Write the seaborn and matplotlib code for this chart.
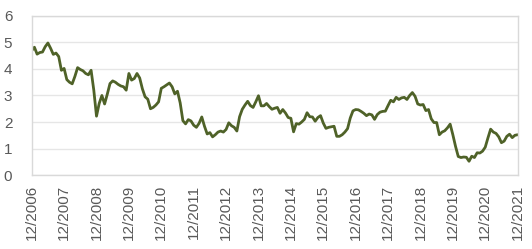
import matplotlib
matplotlib.use("Agg")
import matplotlib.pyplot as plt
import seaborn as sns
import pandas as pd

values = [
    4.69, 4.82, 4.56, 4.62, 4.64, 4.84, 4.98, 4.78, 4.55, 4.60, 4.47, 3.95,
    4.02, 3.60, 3.50, 3.44, 3.72, 4.05, 3.98, 3.93, 3.83, 3.78, 3.95, 3.20,
    2.22, 2.70, 3.00, 2.68, 3.05, 3.45, 3.55, 3.50, 3.42, 3.36, 3.33, 3.20,
    3.83, 3.58, 3.64, 3.83, 3.66, 3.25, 2.95, 2.86, 2.50, 2.55, 2.64, 2.76,
    3.27, 3.33, 3.40, 3.47, 3.33, 3.06, 3.16, 2.72, 2.05, 1.93, 2.09, 2.04,
    1.88, 1.80, 1.95, 2.19, 1.84, 1.55, 1.60, 1.44, 1.52, 1.62, 1.66, 1.62,
    1.72, 1.97, 1.86, 1.80, 1.66, 2.20, 2.48, 2.64, 2.78, 2.62, 2.55, 2.76,
    2.99, 2.61, 2.61, 2.70, 2.58, 2.48, 2.52, 2.55, 2.33, 2.47, 2.34, 2.17,
    2.14, 1.63, 1.94, 1.92, 2.00, 2.10, 2.35, 2.20, 2.19, 2.03, 2.17, 2.24,
    1.96, 1.76, 1.80, 1.82, 1.84, 1.46, 1.46, 1.52, 1.62, 1.75, 2.15, 2.42,
    2.47, 2.46, 2.40, 2.33, 2.24, 2.30, 2.27, 2.10, 2.28, 2.37, 2.40, 2.41,
    2.62, 2.82, 2.76, 2.93, 2.85, 2.91, 2.93, 2.85, 3.00, 3.11, 2.97, 2.68,
    2.64, 2.66, 2.43, 2.47, 2.12, 1.98, 1.98, 1.52, 1.62, 1.67, 1.78, 1.92,
    1.52, 1.08, 0.70, 0.66, 0.68, 0.67, 0.52, 0.71, 0.66, 0.84, 0.83, 0.90,
    1.05, 1.40, 1.73, 1.62, 1.57, 1.44, 1.22, 1.28, 1.46, 1.54, 1.41, 1.50,
    1.52,
]
tick_labels = [f"12/{y}" for y in range(2006, 2022)]
y_ticks = [0, 1, 2, 3, 4, 5, 6]

df = pd.DataFrame({"month": range(len(values)), "value": values})

sns.set_theme(style="white")
plt.rcParams["font.family"] = ["Liberation Sans", "DejaVu Sans"]

fig = plt.figure(figsize=(5.32, 2.49), dpi=100)
ax = fig.add_axes([0.0596, 0.297, 0.9134, 0.639])

sns.lineplot(data=df, x="month", y="value", ax=ax, color="#4f6228", linewidth=2.0)

ax.set_xlim(0, len(values) - 1)
ax.set_ylim(0, 6)
ax.set_xticks(range(0, len(values), 12))
ax.set_xticklabels(tick_labels, rotation=90)
ax.set_yticks(y_ticks)
ax.set_yticklabels([str(v) for v in y_ticks])
ax.set_xlabel("")
ax.set_ylabel("")
ax.grid(axis="y", color="#e6e6e6", linewidth=1.0)
ax.set_axisbelow(True)
for s in ax.spines.values():
    s.set_color("#d9d9d9")
    s.set_linewidth(1.0)
ax.tick_params(axis="both", length=0, labelsize=11, colors="#595959")
ax.tick_params(axis="y", pad=14)
ax.tick_params(axis="x", pad=7)

fig.savefig("out.png", dpi=100)
